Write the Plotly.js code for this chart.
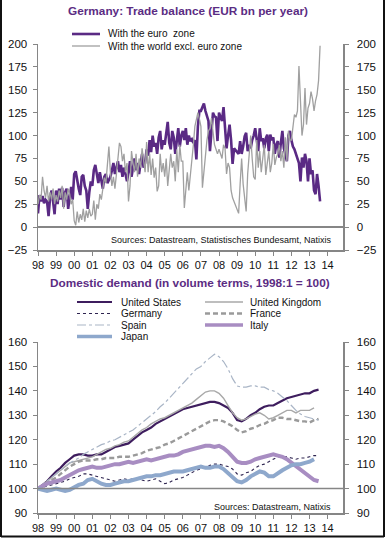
<!DOCTYPE html>
<html><head><meta charset="utf-8">
<script src="https://cdn.plot.ly/plotly-3.0.1.min.js"></script>
<style>html,body{margin:0;padding:0;background:#fff}#chart{width:385px;height:538px}</style>
</head><body><div id="chart"></div>
<script>
// ---------- DATA ----------
const yearTicks = [1998,1999,2000,2001,2002,2003,2004,2005,2006,2007,2008,2009,2010,2011,2012,2013,2014];
const yearLabels = ['98','99','00','01','02','03','04','05','06','07','08','09','10','11','12','13','14'];

// Top chart: monthly, Jan 1998 onward (EUR bn per year)
const tradeStartYear = 1998;
const euroZone = [
 15,35,28,34,26,30,28,12,32,40,28,14,
 40,25,42,30,43,22,38,42,20,35,44,30,
 58,61,50,42,35,55,57,45,40,20,38,50,
 45,62,68,55,48,60,50,42,55,58,48,52,
 55,62,70,58,66,72,60,68,55,65,58,50,
 60,72,55,68,75,62,70,58,72,80,65,70,
 85,78,95,82,100,88,92,80,98,105,85,95,
 90,100,115,92,85,105,98,80,95,108,88,100,
 105,95,108,90,100,94,96,92,95,74,110,127,
 127,132,135,127,122,116,83,108,125,121,120,94,
 125,120,116,131,108,86,100,112,95,69,86,84,
 83,80,94,80,88,99,103,83,90,86,95,100,
 108,94,83,108,94,97,86,97,101,83,101,95,
 98,80,90,94,76,92,105,86,80,72,100,105,
 95,88,85,80,75,70,50,76,65,80,72,50,
 75,58,62,40,36,58,45,28
];
const worldExEuro = [
 25,35,30,55,40,32,45,28,38,30,42,25,
 35,28,40,32,45,20,38,30,42,36,25,30,
 7,2,17,5,14,8,20,6,18,10,20,12,
 14,29,8,25,20,36,30,45,54,48,70,88,
 60,45,55,42,58,75,92,88,72,80,60,70,
 28,45,83,70,60,80,55,75,65,86,70,60,
 93,60,80,57,75,54,65,39,45,80,60,70,
 55,75,45,60,80,65,72,50,85,60,90,72,
 72,21,45,60,40,55,75,90,110,116,125,118,
 110,43,60,80,95,105,108,119,100,90,85,80,
 85,80,75,90,86,58,70,65,40,32,28,25,
 20,15,47,75,47,30,17,58,80,100,75,55,
 52,95,65,83,60,75,90,57,72,83,60,70,
 91,68,76,80,90,72,83,65,98,72,105,95,
 95,108,123,120,127,176,127,100,112,152,112,130,
 135,148,140,127,138,145,160,198
];

// Bottom chart: quarterly, 1998Q1 = 100
const demandStartYear = 1998;
const unitedStates = [
 100,101.5,103,105, 107,108.5,110.5,112, 113.5,114,114,113.5, 113.5,114,114,115,
 116,117,117.5,118, 118.5,120,121.5,123, 124,125,126.5,127.5, 128.5,129.5,130.5,131.5,
 132.5,133,133.5,134, 134.5,135,135.5,135.5, 135,134,133,131, 128,127.5,128.5,130,
 131,132.5,133.5,134, 134,135,136,137, 137.5,138,138.5,139, 139,140,140.5
];
const unitedKingdom = [
 100,101.5,103,104.5, 106,107.5,109,110.5, 111,111.5,112,112.5, 113,114,115,116,
 116.5,117.5,118,119, 119.5,121,122.5,124, 125,126.5,127.5,128.5, 129,130,131,132,
 133,134,135,136.5, 138,139.5,140,140, 139,137,134,131, 129,128,128.5,129.5,
 130.5,131,130,128.5, 129,130,131,132, 132,131,132,132, 132,133
];
const germany = [
 100,100.5,101,101.5, 102,102.5,103,104, 104.5,105,106,106, 105.5,105,104.5,104,
 103.5,103,103.5,104, 103.5,104,104,103.5, 103,103.5,104,103, 102,102.5,103.5,104,
 104.5,105.5,106.5,107.5, 108,108.5,109.5,110, 110,109.5,109,108, 106,105.5,106.5,107,
 108.5,109.5,110,111, 112,113,113,113, 112.5,112,112.5,112.5, 113,113.5,113.5
];
const france = [
 100,101.5,102.5,103.5, 104.5,106,107.5,109, 110,111,111.5,111.5, 111.5,112,112,112.5,
 112.5,112.5,113,113, 113,113.5,114,114.5, 115.5,116,116.5,117, 118,118.5,119.5,120.5,
 121.5,122.5,123.5,124.5, 125.5,126.5,127.5,128, 128,127.5,126.5,125.5, 124,123,123.5,124.5,
 125,126,126.5,127.5, 128,129,129,128.5, 128.5,128,127.5,127.5, 127,128,128.5
];
const spain = [
 100,101.5,103,104.5, 106,107.5,109,110.5, 111.5,112.5,114,115, 116,117,118,118.5,
 119.5,120,121,122, 123,124,125.5,127, 128.5,130,131.5,133.5, 135,137,139,141,
 143,145,147,149, 150,152,153.5,155, 154,152,149,145, 142,141.5,141.5,142,
 142,141.5,141.5,140.5, 140,139,137.5,136, 134,132,130.5,129.5, 129,128.5,128
];
const italy = [
 100,101,102,102.5, 103,103.5,104.5,105.5, 106.5,107.5,108,108.5, 109,108.5,108.5,109,
 109.5,110,110,110.5, 111,110.5,111,111.5, 112,111.5,112,112.5, 113,113.5,113.5,114,
 115,115.5,116,116.5, 117,117.5,117.5,117, 117.5,116.5,115,113, 111,110.5,110.5,111,
 112,112.5,113,113.5, 114,113.5,113,112, 110.5,109,107.5,106, 104.5,103.5,103
];
const japan = [
 100,99.5,99,99.5, 100,99.5,99,99.5, 100.5,101.5,102,103.5, 104,103,102,101.5,
 101.5,102,102.5,103, 103,103.5,104,104.5, 105,105,105.5,105.5, 106,106.5,107,107,
 107,107.5,108,108.5, 109,108.5,108.5,109, 109,108,106.5,104.5, 103,102.5,103.5,105,
 106,107,106.5,105, 105,106.5,107.5,108.5, 109.5,110,110,110.5, 111,112
];

// ---------- GEOMETRY / STYLE ----------
const W = 385, H = 538, ML = 38, MR = 42, MT = 44, MB = 25;
const PW = W - ML - MR, PH = H - MT - MB;
const px = x => (x - ML) / PW;
const py = y => (H - MB - y) / PH;
const FONT = 'Liberation Sans, Arial, sans-serif';
const AXC = '#868686';
const TITLEC = '#5B2C83';

const monthX = arr => arr.map((_, i) => tradeStartYear + i / 12);
const quarterX = arr => arr.map((_, i) => demandStartYear + i / 4);

// ax: which (left/right-labelled) axis each series is drawn on; both share identical ranges
const topSeries = [
  {name: 'With the euro  zone', y: euroZone, color: '#5A2A84', width: 2.6, dash: 'solid', ax: 'y'},
  {name: 'With the world excl. euro zone', y: worldExEuro, color: '#A0A0A0', width: 1.3, dash: 'solid', ax: 'y2'}
];
const bottomSeries = [
  {name: 'United States', y: unitedStates, color: '#3E1D5E', width: 2.2, dash: 'solid', ax: 'y3'},
  {name: 'United Kingdom', y: unitedKingdom, color: '#A8A8A8', width: 1.4, dash: 'solid', ax: 'y3'},
  {name: 'Germany', y: germany, color: '#2E2450', width: 1.1, dash: 'dot', ax: 'y3'},
  {name: 'France', y: france, color: '#9A9A9A', width: 2.4, dash: '5px,3px', ax: 'y3'},
  {name: 'Spain', y: spain, color: '#A9B5C6', width: 1.2, dash: 'dashdot', ax: 'y3'},
  {name: 'Italy', y: italy, color: '#A88DC2', width: 4, dash: 'solid', ax: 'y3'},
  {name: 'Japan', y: japan, color: '#8EA8CC', width: 4, dash: 'solid', ax: 'y4'}
];

const traces = [];
topSeries.forEach(s => traces.push({
  type: 'scatter', mode: 'lines', name: s.name, x: monthX(s.y), y: s.y,
  xaxis: 'x', yaxis: s.ax, line: {color: s.color, width: s.width, dash: s.dash},
  showlegend: false, hoverinfo: 'skip'
}));
bottomSeries.forEach(s => traces.push({
  type: 'scatter', mode: 'lines', name: s.name, x: quarterX(s.y), y: s.y,
  xaxis: 'x2', yaxis: s.ax, line: {color: s.color, width: s.width, dash: s.dash},
  showlegend: false, hoverinfo: 'skip'
}));

const xBase = {
  range: [1998, 2014.85], tickvals: yearTicks, ticktext: yearLabels,
  ticks: 'outside', ticklen: 4, tickwidth: 1, tickcolor: AXC,
  showline: true, linecolor: AXC, linewidth: 1.5, showgrid: false, zeroline: false,
  tickfont: {family: FONT, size: 11, color: '#111'}, fixedrange: true
};
const yBase = {
  ticks: 'outside', ticklen: 4, tickwidth: 1, tickcolor: AXC,
  showline: true, linecolor: AXC, linewidth: 1.5, showgrid: false,
  tickfont: {family: FONT, size: 11.5, color: '#111'}, fixedrange: true
};
const topDomain = [py(250), 1];
const botDomain = [0, py(342)];

const shapes = [], annotations = [];
// custom legends built from series names/styles
function legendItem(s, x0, x1, xt, y) {
  shapes.push({type: 'line', xref: 'paper', yref: 'paper', x0: px(x0), x1: px(x1), y0: py(y), y1: py(y),
    line: {color: s.color, width: Math.min(s.width, 3.5), dash: s.dash}});
  annotations.push({xref: 'paper', yref: 'paper', x: px(xt), y: py(y), xanchor: 'left', yanchor: 'middle',
    text: s.name, showarrow: false, font: {family: FONT, size: 10, color: '#111'}});
}
legendItem(topSeries[0], 72, 100, 106, 34);
legendItem(topSeries[1], 72, 100, 106, 46);
const leftCol = [0, 2, 4, 6], rightCol = [1, 3, 5];
const rowsY = [302, 313.5, 325, 336.5];
leftCol.forEach((k, r) => legendItem(bottomSeries[k], 77, 112, 119, rowsY[r]));
rightCol.forEach((k, r) => legendItem(bottomSeries[k], 205, 243, 248, rowsY[r]));

// reference line at 100 in lower chart
shapes.push({type: 'line', xref: 'x2 domain', yref: 'y3', x0: 0, x1: 1, y0: 100, y1: 100,
  line: {color: AXC, width: 1.5}});

// sources
annotations.push({xref: 'paper', yref: 'paper', x: px(334), y: py(240), xanchor: 'right', yanchor: 'middle',
  text: 'Sources: Datastream, Statistisches Bundesamt, Natixis', showarrow: false,
  font: {family: FONT, size: 9, color: '#111'}});
annotations.push({xref: 'paper', yref: 'paper', x: px(333), y: py(507), xanchor: 'right', yanchor: 'middle',
  text: 'Sources: Datastream, Natixis', showarrow: false, font: {family: FONT, size: 9, color: '#111'}});
// lower title
annotations.push({xref: 'paper', yref: 'paper', x: px(190), y: py(283), xanchor: 'center', yanchor: 'middle',
  text: '<b>Domestic demand (in volume terms, 1998:1 = 100)</b>', showarrow: false,
  font: {family: FONT, size: 11.8, color: TITLEC}});

// frame on left, bottom, right
[[1, 0, 1, 537], [1, 536.5, 384, 536.5], [384, 0, 384, 537]].forEach(c => shapes.push({
  type: 'line', xref: 'paper', yref: 'paper', x0: px(c[0]), y0: py(c[1]), x1: px(c[2]), y1: py(c[3]),
  line: {color: '#111', width: 2}}));

const leftY = {ticklabelstandoff: 3};
const rightY = {ticklabelstandoff: 6};
const layout = {
  width: W, height: H, margin: {l: ML, r: MR, t: MT, b: MB, pad: 0},
  paper_bgcolor: '#fff', plot_bgcolor: '#fff', showlegend: false,
  title: {text: '<b>Germany: Trade balance (EUR bn per year)</b>', xref: 'container', yref: 'container',
    x: 188 / W, y: 1 - 11 / H, xanchor: 'center', yanchor: 'middle',
    font: {family: FONT, size: 11.8, color: TITLEC}},
  xaxis: Object.assign({}, xBase, {anchor: 'y', domain: [0, 1]}),
  xaxis2: Object.assign({}, xBase, {anchor: 'y3', domain: [0, 1]}),
  yaxis: Object.assign({}, yBase, leftY, {domain: topDomain, anchor: 'x', range: [-25, 200], dtick: 25, tick0: 0,
    zeroline: true, zerolinecolor: AXC, zerolinewidth: 1.5}),
  yaxis2: Object.assign({}, yBase, rightY, {overlaying: 'y', anchor: 'x', side: 'right', range: [-25, 200], dtick: 25, tick0: 0, zeroline: false}),
  yaxis3: Object.assign({}, yBase, leftY, {domain: botDomain, anchor: 'x2', range: [90, 160], dtick: 10, tick0: 90, zeroline: false}),
  yaxis4: Object.assign({}, yBase, rightY, {overlaying: 'y3', anchor: 'x2', side: 'right', range: [90, 160], dtick: 10, tick0: 90, zeroline: false}),
  shapes: shapes, annotations: annotations
};
Plotly.newPlot('chart', traces, layout, {staticPlot: true, displayModeBar: false});
</script></body></html>
